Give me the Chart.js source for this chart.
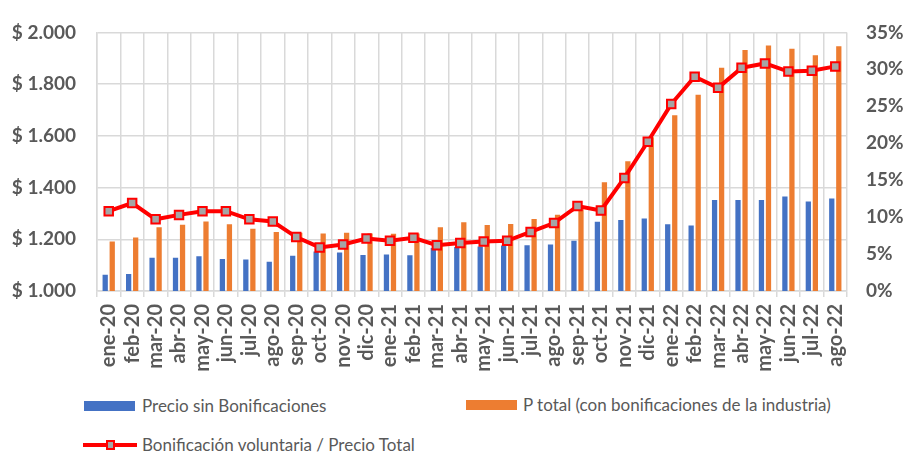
<!DOCTYPE html>
<html>
<head>
<meta charset="utf-8">
<script src="https://cdn.jsdelivr.net/npm/chart.js@4"></script>
<style>
  html, body { margin: 0; padding: 0; background: #fff; }
  body { width: 905px; height: 456px; position: relative; overflow: hidden; font-family: Lato, "Open Sans", sans-serif; }
  #c { position: absolute; left: 0; top: 0; }
  .leg { position: absolute; font-size: 17px; color: #595959; white-space: nowrap; line-height: 20px; }
  .box { position: absolute; width: 51px; height: 10px; }
  .lline { position: absolute; width: 54px; height: 4px; background: #FF0000; }
  .lmark { position: absolute; width: 5px; height: 6px; background: #A5A5A5; border: 2px solid #FF0000; }
</style>
</head>
<body>
<canvas id="c" width="905" height="380"></canvas>
<div class="box" style="left:84px; top:401px; background:#4472C4;"></div>
<div class="leg" id="l1" style="left:142px; top:396px;"></div>
<div class="box" style="left:466px; top:400px; background:#ED7D31;"></div>
<div class="leg" id="l2" style="left:523px; top:395px;"></div>
<div class="lline" style="left:83px; top:443px;"></div>
<div class="lmark" style="left:106px; top:440px;"></div>
<div class="leg" id="l3" style="left:142px; top:435px;"></div>
<script>
const categories = ["ene-20","feb-20","mar-20","abr-20","may-20","jun-20","jul-20","ago-20","sep-20","oct-20","nov-20","dic-20",
  "ene-21","feb-21","mar-21","abr-21","may-21","jun-21","jul-21","ago-21","sep-21","oct-21","nov-21","dic-21",
  "ene-22","feb-22","mar-22","abr-22","may-22","jun-22","jul-22","ago-22"];
const precioSinBonif = [1063,1066,1129,1129,1134,1124,1122,1113,1136,1153,1149,1139,
  1141,1138,1166,1170,1172,1176,1177,1180,1194,1268,1275,1280,
  1258,1253,1352,1352,1352,1365,1346,1358];
const precioTotal = [1191,1207,1247,1256,1269,1258,1241,1228,1225,1222,1225,1222,
  1221,1222,1247,1266,1255,1259,1278,1295,1330,1421,1502,1595,
  1680,1759,1863,1932,1949,1937,1912,1946];
const bonifPct = [10.8,11.9,9.7,10.3,10.8,10.8,9.7,9.4,7.3,5.9,6.3,7.1,
  6.8,7.2,6.2,6.5,6.7,6.8,8.0,9.2,11.5,10.9,15.3,20.2,
  25.3,29.0,27.5,30.2,30.8,29.7,29.8,30.4];
const leftTicks = {min:1000, max:2000, step:200};
const rightTicks = {min:0, max:35, step:5};
const seriesNames = ["Precio sin Bonificaciones","P total (con bonificaciones de la industria)","Bonificación voluntaria / Precio Total"];

document.getElementById('l1').textContent = seriesNames[0];
document.getElementById('l2').textContent = seriesNames[1];
document.getElementById('l3').textContent = seriesNames[2];

const GRID = '#D9D9D9';
const TXT = '#595959';
const FONT = 'Lato, "Open Sans", sans-serif';

new Chart(document.getElementById('c'), {
  data: {
    labels: categories,
    datasets: [
      { type:'line', label: seriesNames[2], data: bonifPct, yAxisID:'y1', order:0,
        borderColor:'#FF0000', borderWidth:4, backgroundColor:'#A5A5A5',
        pointStyle:'rect', pointRadius:6, pointBorderWidth:2, pointBorderColor:'#FF0000', pointBackgroundColor:'#A5A5A5',
        tension:0 },
      { type:'bar', label: seriesNames[0], data: precioSinBonif, yAxisID:'y', order:1,
        backgroundColor:'#4472C4', categoryPercentage:0.6, barPercentage:0.75 },
      { type:'bar', label: seriesNames[1], data: precioTotal, yAxisID:'y', order:1,
        backgroundColor:'#ED7D31', categoryPercentage:0.6, barPercentage:0.75 }
    ]
  },
  options: {
    responsive:false, animation:false, devicePixelRatio:1,
    layout:{ padding:{ top:20, left:0, right:0, bottom:0 } },
    plugins:{ legend:{ display:false }, tooltip:{ enabled:false } },
    scales:{
      x:{
        offset:true,
        grid:{ offset:true, color:GRID, lineWidth:1.5, tickLength:6, drawTicks:true },
        border:{ color:GRID, width:1.5 },
        ticks:{ autoSkip:false, maxRotation:90, minRotation:90, padding:7, color:TXT, font:{ family:FONT, size:20, weight:'bold' } },
        afterFit(s){ s.height = 89; }
      },
      y:{
        position:'left', min:leftTicks.min, max:leftTicks.max,
        grid:{ color:GRID, lineWidth:1.5, drawTicks:false },
        border:{ color:GRID, width:1.5 },
        ticks:{ stepSize:leftTicks.step, padding:21, color:TXT, font:{ family:FONT, size:19, weight:'bold' },
          callback:(v)=> '$ ' + String(v).replace(/\B(?=(\d{3})+(?!\d))/g,'.') },
        afterFit(s){ s.width = 97; }
      },
      y1:{
        position:'right', min:rightTicks.min, max:rightTicks.max,
        grid:{ display:false, drawTicks:false },
        border:{ display:false },
        ticks:{ stepSize:rightTicks.step, padding:19, color:TXT, font:{ family:FONT, size:19, weight:'bold' },
          callback:(v)=> v + '%' },
        afterFit(s){ s.width = 58; }
      }
    }
  }
});
</script>
</body>
</html>
